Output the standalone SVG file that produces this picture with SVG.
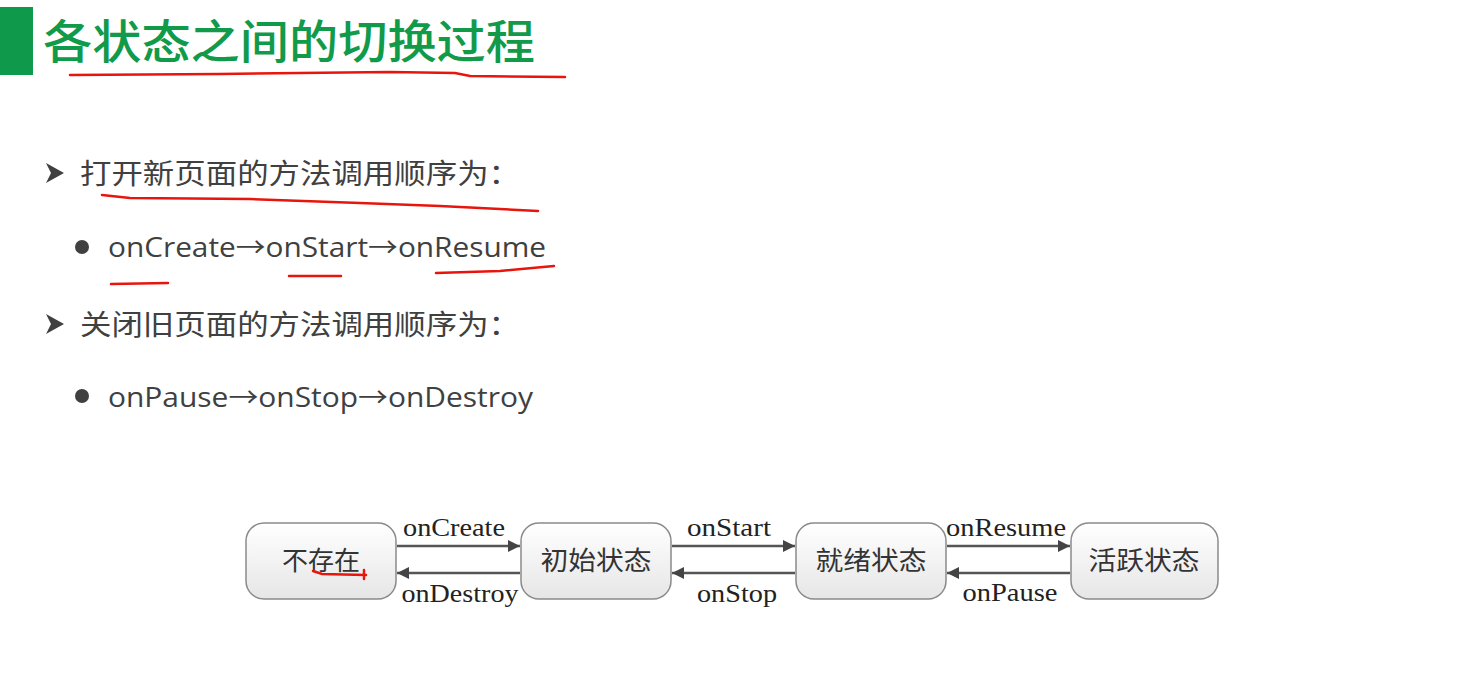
<svg xmlns="http://www.w3.org/2000/svg" width="1468" height="699" viewBox="0 0 1468 699">
<defs>
<linearGradient id="boxg" x1="0" y1="0" x2="0" y2="1">
<stop offset="0" stop-color="#ffffff"/>
<stop offset="1" stop-color="#e6e6e6"/>
</linearGradient>
<marker id="ah" viewBox="0 0 10 10" refX="10" refY="5" markerWidth="16" markerHeight="12" markerUnits="userSpaceOnUse" orient="auto">
<path d="M0,0 L10,5 L0,10 z" fill="#444"/>
</marker>
</defs>
<style>
.title{font-family:"Noto Sans CJK SC","Noto Sans",sans-serif;font-size:46px;fill:#119a4a;font-weight:500}
.h{font-family:"Noto Sans CJK SC","Noto Sans",sans-serif;font-size:28px;fill:#404040}
.b{font-family:"Open Sans","Noto Sans CJK SC",sans-serif;font-size:27px;fill:#404040}
.box{fill:url(#boxg);stroke:#8a8a8a;stroke-width:1.5}
.bt{font-family:"Liberation Serif","Noto Sans CJK SC",serif;font-size:26px;fill:#333;text-anchor:middle}
.lbl{font-family:"Liberation Serif",serif;font-size:25px;fill:#222;text-anchor:middle}
.edge{stroke:#555;stroke-width:2.5;fill:none;marker-end:url(#ah)}
.red{stroke:#e8150c;stroke-width:2.5;fill:none;stroke-linecap:round}
</style>
<rect width="1468" height="699" fill="#ffffff"/>
<g id="header">
<rect x="0" y="7" width="33" height="68" fill="#0f9a4b"/>
<text class="title" x="43" y="58" textLength="492" lengthAdjust="spacingAndGlyphs">各状态之间的切换过程</text>
<path class="red" d="M70,75 L220,74 L390,72 L455,73 L470,76 L565,77"/>
</g>
<g id="list">
<path d="M46,163 L64,173 L46,183 L51,173 z" fill="#404040"/>
<text class="h" x="80" y="184" textLength="440" lengthAdjust="spacingAndGlyphs">打开新页面的方法调用顺序为：</text>
<path class="red" d="M102,195 L130,198 L250,199 L360,203 L440,206 L538,211"/>
<circle cx="82" cy="247" r="7" fill="#404040"/>
<text class="b" x="108" y="257" textLength="438" lengthAdjust="spacingAndGlyphs">onCreate→onStart→onResume</text>
<path class="red" d="M111,284 L168,283"/>
<path class="red" d="M289,276 L341,276"/>
<path class="red" d="M436,273 L500,271 L554,266"/>
<path d="M46,314 L64,324 L46,334 L51,324 z" fill="#404040"/>
<text class="h" x="80" y="335" textLength="440" lengthAdjust="spacingAndGlyphs">关闭旧页面的方法调用顺序为：</text>
<circle cx="82" cy="396" r="7" fill="#404040"/>
<text class="b" x="108" y="407" textLength="425" lengthAdjust="spacingAndGlyphs">onPause→onStop→onDestroy</text>
</g>
<g id="connectors">
<line class="edge" x1="397" y1="546" x2="520" y2="546"/>
<line class="edge" x1="520" y1="573" x2="397" y2="573"/>
<line class="edge" x1="672" y1="546" x2="795" y2="546"/>
<line class="edge" x1="795" y1="573" x2="672" y2="573"/>
<line class="edge" x1="947" y1="546" x2="1070" y2="546"/>
<line class="edge" x1="1070" y1="573" x2="947" y2="573"/>
<text class="lbl" x="454" y="536" textLength="102" lengthAdjust="spacingAndGlyphs">onCreate</text>
<text class="lbl" x="460" y="602" textLength="117" lengthAdjust="spacingAndGlyphs">onDestroy</text>
<text class="lbl" x="729" y="536" textLength="84" lengthAdjust="spacingAndGlyphs">onStart</text>
<text class="lbl" x="737" y="602" textLength="80" lengthAdjust="spacingAndGlyphs">onStop</text>
<text class="lbl" x="1006" y="536" textLength="120" lengthAdjust="spacingAndGlyphs">onResume</text>
<text class="lbl" x="1010" y="601" textLength="95" lengthAdjust="spacingAndGlyphs">onPause</text>
</g>
<g id="n1">
<rect class="box" x="246" y="523" width="150" height="76" rx="18"/>
<text class="bt" x="321" y="570">不存在</text>
<path class="red" d="M313,571 L322,574 L366,575 M364,570 L364,579"/>
</g>
<g id="n2">
<rect class="box" x="521" y="523" width="150" height="76" rx="18"/>
<text class="bt" x="596" y="570" textLength="111" lengthAdjust="spacingAndGlyphs">初始状态</text>
</g>
<g id="n3">
<rect class="box" x="796" y="523" width="150" height="76" rx="18"/>
<text class="bt" x="871" y="570" textLength="111" lengthAdjust="spacingAndGlyphs">就绪状态</text>
</g>
<g id="n4">
<rect class="box" x="1071" y="523" width="147" height="76" rx="18"/>
<text class="bt" x="1144" y="570" textLength="111" lengthAdjust="spacingAndGlyphs">活跃状态</text>
</g>
</svg>
